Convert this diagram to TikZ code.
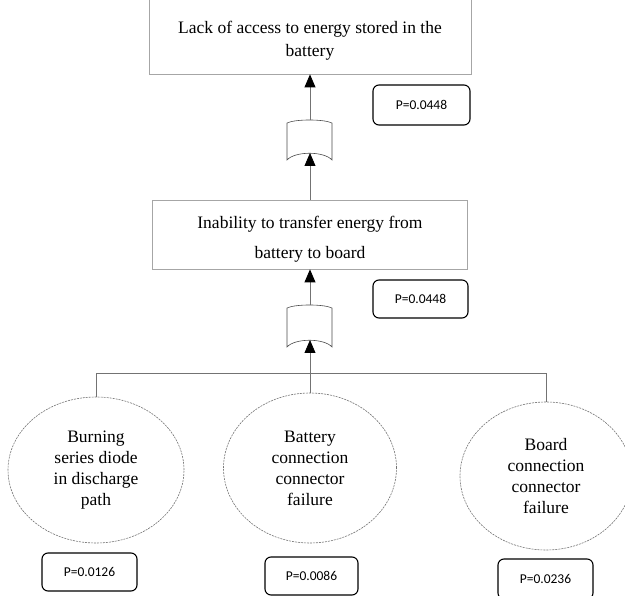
\documentclass[tikz,border=0pt]{standalone}
\usepackage{fontspec}
\setmainfont{Liberation Serif}
\newfontfamily\pfont{Carlito}
\usetikzlibrary{arrows.meta,shapes.geometric}

\begin{document}
\begin{tikzpicture}[x=1pt,y=-1pt,
  eventbox/.style={draw=black!35, line width=0.8pt, inner sep=0pt, align=center},
  basicev/.style={ellipse, draw=black!55, dash pattern=on 2pt off 1pt, line width=0.6pt,
    inner sep=0pt, align=center, font=\fontsize{17.5}{21}\selectfont},
  prob/.style={draw=black, line width=1.1pt, rounded corners=6pt, inner sep=0pt,
    font=\pfont\fontsize{13.5}{16}\selectfont},
  wire/.style={draw=black!55, line width=0.8pt},
  up/.style={wire, -{Triangle[width=11pt,length=13pt,black]}},
  orgate/.style={draw=black!70, line width=0.6pt, fill=white}]

\useasboundingbox (0,0) rectangle (625,596);
\clip (0,0) rectangle (625,596);

% top event (upper edge runs off the page)
\node[eventbox, minimum width=322, minimum height=100] (top) at (310,24) {};
\node[align=center, font=\fontsize{17.5}{23}\selectfont] (toptxt) at (310,41)
  {Lack of access to energy stored in the\\battery};

% intermediate event
\node[eventbox, minimum width=315, minimum height=69] (mid) at (310,234.5) {};
\node[align=center, font=\fontsize{17.5}{30}\selectfont] (midtxt) at (310,239)
  {Inability to transfer energy from\\battery to board};

% OR gates
\draw[orgate] (287,123) .. controls (295,119) and (324,119) .. (332,123) -- (332,160)
  .. controls (324,151) and (295,151) .. (287,160) -- cycle;
\coordinate (g1top) at (310,120);
\coordinate (g1bot) at (310,153);

\draw[orgate] (287,308) .. controls (295,304) and (324,304) .. (332,308) -- (332,347)
  .. controls (324,338) and (295,338) .. (287,347) -- cycle;
\coordinate (g2top) at (310,305);
\coordinate (g2bot) at (310,340);

% basic events
\node[basicev, minimum width=176, minimum height=146] (e1) at (96,470)
  {Burning\\series diode\\in discharge\\path};
\node[basicev, minimum width=173, minimum height=150] (e2) at (310,468)
  {Battery\\connection\\connector\\failure};
\node[basicev, minimum width=172, minimum height=148] (e3) at (546,476)
  {Board\\connection\\connector\\failure};

% probabilities
\node[prob, minimum width=97, minimum height=40] (pA) at (421.5,105) {P=0.0448};
\node[prob, minimum width=95, minimum height=38] (pB) at (420.5,299) {P=0.0448};
\node[prob, minimum width=95, minimum height=38] (p1) at (89.5,572) {P=0.0126};
\node[prob, minimum width=93, minimum height=38] (p2) at (311.5,576) {P=0.0086};
\node[prob, minimum width=95, minimum height=40] (p3) at (545.5,579) {P=0.0236};

% connectors
\draw[up] (g1top) -- (top.south);
\draw[up] (mid.north) -- (g1bot);
\draw[up] (g2top) -- (mid.south);
\draw[up] (e2.north) -- (g2bot);
\coordinate (bus) at (310,373);
\draw[wire] (e1.north) -- (e1.north |- bus) -- (e3.north |- bus) -- (e3.north);
\end{tikzpicture}
\end{document}
